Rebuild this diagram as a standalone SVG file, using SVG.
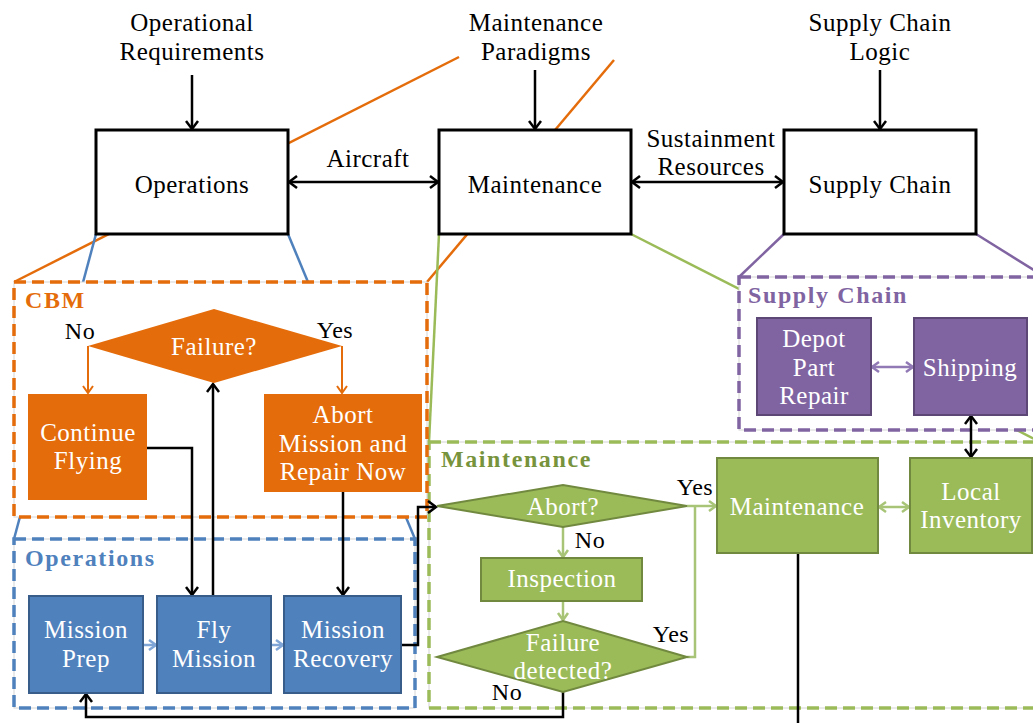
<svg xmlns="http://www.w3.org/2000/svg" width="1033" height="723" viewBox="0 0 1033 723" font-family="Liberation Serif" font-size="25">
  <style>
    text { letter-spacing: 0.5px; text-anchor: middle; }
    .dark { fill: #000; }
    .lite { fill: #fff; }
    .small { font-size: 24px; }
    .title { font-weight: bold; font-size: 24px; letter-spacing: 1.6px; text-anchor: start; }
    .top { fill: #fff; stroke: #000; stroke-width: 3; }
    .zoomline { fill: none; stroke-width: 2.5; }
    .frame { fill: #fff; stroke: #d4d4d4; stroke-width: 1; }
    .dash { fill: none; stroke-width: 3.5; stroke-dasharray: 12 6; }
    .orange { fill: #E46C0A; }
    .blue { fill: #4F81BD; stroke: #385D8A; stroke-width: 2; }
    .green { fill: #9BBB59; stroke: #71893F; stroke-width: 2; }
    .purple { fill: #8064A2; stroke: #5C4776; stroke-width: 2; }
    .blk { fill: none; stroke: #000; stroke-width: 2.5; }
    .cO { fill: none; stroke: #E46C0A; stroke-width: 2; }
    .cB { fill: none; stroke: #7FA6D6; stroke-width: 2.5; }
    .cG { fill: none; stroke: #A8C477; stroke-width: 2.5; }
    .cP { fill: none; stroke: #9079B5; stroke-width: 2.5; }
  </style>
  <defs>
    <marker id="ahK" viewBox="-10 -8 12 16" refX="0" refY="0" markerWidth="12" markerHeight="16" markerUnits="userSpaceOnUse" orient="auto-start-reverse" overflow="visible">
      <path d="M-8,-6 L0,0 L-8,6" fill="none" stroke="#000" stroke-width="2.5"/>
    </marker>
    <marker id="ahO" viewBox="-10 -8 12 16" refX="0" refY="0" markerWidth="12" markerHeight="16" markerUnits="userSpaceOnUse" orient="auto-start-reverse" overflow="visible">
      <path d="M-7,-5 L0,0 L-7,5" fill="none" stroke="#E46C0A" stroke-width="2"/>
    </marker>
    <marker id="ahB" viewBox="-10 -8 12 16" refX="0" refY="0" markerWidth="12" markerHeight="16" markerUnits="userSpaceOnUse" orient="auto-start-reverse" overflow="visible">
      <path d="M-7,-5 L0,0 L-7,5" fill="none" stroke="#7FA6D6" stroke-width="2.5"/>
    </marker>
    <marker id="ahG" viewBox="-10 -8 12 16" refX="0" refY="0" markerWidth="12" markerHeight="16" markerUnits="userSpaceOnUse" orient="auto-start-reverse" overflow="visible">
      <path d="M-7,-5 L0,0 L-7,5" fill="none" stroke="#A8C477" stroke-width="2.5"/>
    </marker>
    <marker id="ahP" viewBox="-10 -8 12 16" refX="0" refY="0" markerWidth="12" markerHeight="16" markerUnits="userSpaceOnUse" orient="auto-start-reverse" overflow="visible">
      <path d="M-7,-5 L0,0 L-7,5" fill="none" stroke="#9079B5" stroke-width="2.5"/>
    </marker>
  </defs>

  <rect width="1033" height="723" fill="#fff"/>

  <!-- expansion lines linking top-level blocks to their detail panels -->
  <g id="zoom-lines">
    <line class="zoomline" stroke="#E46C0A" x1="14" y1="282" x2="459" y2="57"/>
    <line class="zoomline" stroke="#E46C0A" x1="427" y1="282" x2="614" y2="60"/>
    <line class="zoomline" stroke="#4F81BD" x1="96" y1="234" x2="14" y2="539"/>
    <line class="zoomline" stroke="#4F81BD" x1="288" y1="234" x2="415" y2="539"/>
    <line class="zoomline" stroke="#9BBB59" x1="439" y1="234" x2="429" y2="442"/>
    <line class="zoomline" stroke="#9BBB59" x1="631" y1="234" x2="1050" y2="447"/>
    <line class="zoomline" stroke="#8064A2" x1="784" y1="234" x2="739" y2="277"/>
    <line class="zoomline" stroke="#8064A2" x1="976" y1="234" x2="1045" y2="277"/>
  </g>

  <!-- external inputs -->
  <g id="inputs">
    <text class="dark" x="192" y="31">Operational</text>
    <text class="dark" x="192" y="60">Requirements</text>
    <text class="dark" x="536" y="31">Maintenance</text>
    <text class="dark" x="536" y="60">Paradigms</text>
    <text class="dark" x="880" y="31">Supply Chain</text>
    <text class="dark" x="880" y="60">Logic</text>
  </g>

  <!-- top-level blocks -->
  <g id="top-operations">
    <rect class="top" x="96" y="130" width="192" height="104"/>
    <text class="dark" x="192" y="193">Operations</text>
  </g>
  <g id="top-maintenance">
    <rect class="top" x="439" y="130" width="192" height="104"/>
    <text class="dark" x="535" y="193">Maintenance</text>
  </g>
  <g id="top-supply-chain">
    <rect class="top" x="784" y="130" width="192" height="104"/>
    <text class="dark" x="880" y="193">Supply Chain</text>
  </g>
  <g id="flow-labels">
    <text class="dark" x="368" y="167">Aircraft</text>
    <text class="dark" x="711" y="147">Sustainment</text>
    <text class="dark" x="711" y="175">Resources</text>
  </g>

  <!-- detail panels -->
  <g id="panel-maintenance">
    <rect class="frame" x="429" y="442" width="620" height="266"/>
    <rect class="dash" stroke="#9BBB59" x="429" y="442" width="620" height="266"/>
    <text class="title" fill="#77933C" x="441" y="467">Maintenance</text>
  </g>
  <g id="panel-supply-chain">
    <rect class="frame" x="739" y="277" width="310" height="153"/>
    <rect class="dash" stroke="#8064A2" x="739" y="277" width="310" height="153"/>
    <text class="title" fill="#8064A2" x="748" y="303">Supply Chain</text>
  </g>
  <g id="panel-operations">
    <rect class="frame" x="14" y="539" width="401" height="169"/>
    <rect class="dash" stroke="#4F81BD" x="14" y="539" width="401" height="169"/>
    <text class="title" fill="#4F81BD" x="25" y="566">Operations</text>
  </g>
  <g id="panel-cbm">
    <rect class="frame" x="14" y="282" width="413" height="235"/>
    <rect class="dash" stroke="#E46C0A" x="14" y="282" width="413" height="235"/>
    <text class="title" fill="#E46C0A" x="25" y="308">CBM</text>
  </g>

  <!-- connectors -->
  <g id="connectors">
    <!-- top level -->
    <line class="blk" x1="192" y1="75" x2="192" y2="129" marker-end="url(#ahK)"/>
    <line class="blk" x1="535" y1="70" x2="535" y2="129" marker-end="url(#ahK)"/>
    <line class="blk" x1="880" y1="70" x2="880" y2="129" marker-end="url(#ahK)"/>
    <line class="blk" x1="289" y1="182" x2="438" y2="182" marker-start="url(#ahK)" marker-end="url(#ahK)"/>
    <line class="blk" x1="632" y1="182" x2="783" y2="182" marker-start="url(#ahK)" marker-end="url(#ahK)"/>
    <!-- CBM -->
    <polyline class="cO" points="88,346 88,393" marker-end="url(#ahO)"/>
    <polyline class="cO" points="342,346 342,393" marker-end="url(#ahO)"/>
    <polyline class="blk" points="147,448 192,448 192,595" marker-end="url(#ahK)"/>
    <line class="blk" x1="213" y1="596" x2="213" y2="384" marker-end="url(#ahK)"/>
    <line class="blk" x1="343" y1="492" x2="343" y2="595" marker-end="url(#ahK)"/>
    <!-- operations -->
    <line class="cB" x1="143" y1="645" x2="156" y2="645" marker-end="url(#ahB)"/>
    <line class="cB" x1="271" y1="645" x2="283" y2="645" marker-end="url(#ahB)"/>
    <polyline class="blk" points="401,645 418,645 418,507 436,507" marker-end="url(#ahK)"/>
    <polyline class="blk" points="563,692 563,717 86,717 86,694" marker-end="url(#ahK)"/>
    <!-- maintenance -->
    <line class="cG" x1="563" y1="527" x2="563" y2="557" marker-end="url(#ahG)"/>
    <line class="cG" x1="563" y1="601" x2="563" y2="620" marker-end="url(#ahG)"/>
    <line class="cG" x1="687" y1="506" x2="716" y2="506" marker-end="url(#ahG)"/>
    <polyline class="cG" points="687,657 695,657 695,506"/>
    <line class="cG" x1="879" y1="507" x2="909" y2="507" marker-start="url(#ahG)" marker-end="url(#ahG)"/>
    <line class="blk" x1="798" y1="553" x2="798" y2="730"/>
    <!-- supply chain -->
    <line class="cP" x1="872" y1="367" x2="913" y2="367" marker-start="url(#ahP)" marker-end="url(#ahP)"/>
    <line class="blk" x1="971" y1="416" x2="971" y2="457" marker-start="url(#ahK)" marker-end="url(#ahK)"/>
  </g>

  <!-- CBM nodes -->
  <g id="cbm-failure">
    <polygon class="orange" points="88,346 214,309 342,346 214,383"/>
    <text class="lite" x="214" y="355">Failure?</text>
    <text class="dark small" x="80" y="339">No</text>
    <text class="dark small" x="335" y="338">Yes</text>
  </g>
  <g id="cbm-continue">
    <rect class="orange" x="28" y="394" width="119" height="106"/>
    <text class="lite" x="88" y="441">Continue</text>
    <text class="lite" x="88" y="469">Flying</text>
  </g>
  <g id="cbm-abort">
    <rect class="orange" x="264" y="394" width="158" height="98"/>
    <text class="lite" x="343" y="423">Abort</text>
    <text class="lite" x="343" y="452">Mission and</text>
    <text class="lite" x="343" y="480">Repair Now</text>
  </g>

  <!-- operations nodes -->
  <g id="ops-prep">
    <rect class="blue" x="29" y="596" width="114" height="97"/>
    <text class="lite" x="86" y="638">Mission</text>
    <text class="lite" x="86" y="667">Prep</text>
  </g>
  <g id="ops-fly">
    <rect class="blue" x="157" y="596" width="114" height="97"/>
    <text class="lite" x="214" y="638">Fly</text>
    <text class="lite" x="214" y="667">Mission</text>
  </g>
  <g id="ops-recovery">
    <rect class="blue" x="284" y="596" width="117" height="97"/>
    <text class="lite" x="343" y="638">Mission</text>
    <text class="lite" x="343" y="667">Recovery</text>
  </g>

  <!-- maintenance nodes -->
  <g id="mx-abort">
    <polygon class="green" points="437,506 563,485 687,506 563,527"/>
    <text class="lite" x="563" y="515">Abort?</text>
    <text class="dark small" x="590" y="548">No</text>
    <text class="dark small" x="695" y="495">Yes</text>
  </g>
  <g id="mx-inspection">
    <rect class="green" x="481" y="558" width="161" height="43"/>
    <text class="lite" x="562" y="587">Inspection</text>
  </g>
  <g id="mx-detected">
    <polygon class="green" points="437,657 563,621 687,657 563,692"/>
    <text class="lite" x="563" y="651">Failure</text>
    <text class="lite" x="563" y="679">detected?</text>
    <text class="dark small" x="671" y="642">Yes</text>
    <text class="dark small" x="507" y="700">No</text>
  </g>
  <g id="mx-maintenance">
    <rect class="green" x="717" y="458" width="161" height="95"/>
    <text class="lite" x="797" y="515">Maintenance</text>
  </g>
  <g id="mx-inventory">
    <rect class="green" x="910" y="458" width="122" height="95"/>
    <text class="lite" x="971" y="500">Local</text>
    <text class="lite" x="971" y="528">Inventory</text>
  </g>

  <!-- supply chain nodes -->
  <g id="sc-depot">
    <rect class="purple" x="757" y="318" width="114" height="97"/>
    <text class="lite" x="814" y="347">Depot</text>
    <text class="lite" x="814" y="376">Part</text>
    <text class="lite" x="814" y="404">Repair</text>
  </g>
  <g id="sc-shipping">
    <rect class="purple" x="914" y="318" width="113" height="97"/>
    <text class="lite" x="970" y="376">Shipping</text>
  </g>
</svg>
